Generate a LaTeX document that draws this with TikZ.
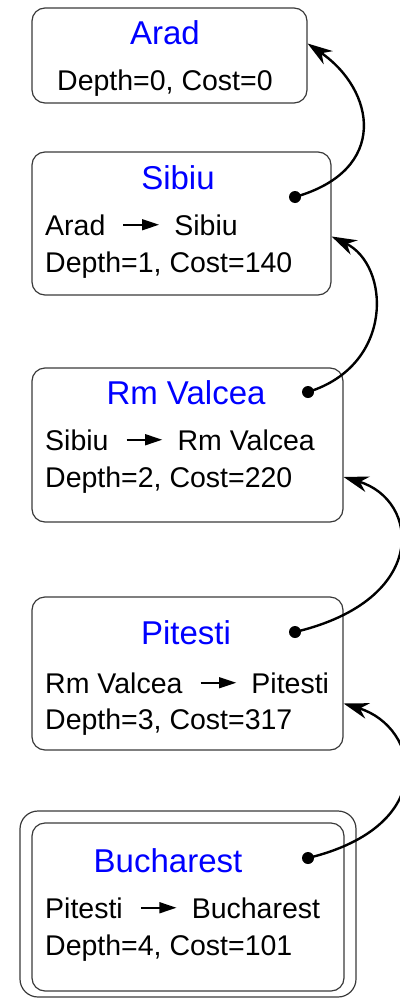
\documentclass[tikz,border=0pt]{standalone}
\usepackage{fontspec}
\setmainfont{Liberation Sans}
\usepackage{tikz}
\usetikzlibrary{arrows.meta, calc}
\definecolor{boxgrey}{HTML}{3a3a3a}
\definecolor{cityblue}{HTML}{0000ff}

% small arrow used inside the path lines
\newcommand{\hop}{\tikz[baseline=-0.36em]\draw[-{Triangle[length=0.6em,width=0.38em]}, line width=0.07em] (0,0) -- (1.25em,0);}

\begin{document}
\begin{tikzpicture}[
  x=1pt, y=-1pt,
  statebox/.style={draw=boxgrey, line width=1.2pt, rounded corners=13pt, inner sep=0pt},
  goalbox/.style={draw=boxgrey, line width=1.2pt, rounded corners=18pt, inner sep=0pt},
  cityname/.style={text=cityblue, font=\fontsize{33}{39}\selectfont, anchor=base, inner sep=0pt},
  infoline/.style={font=\fontsize{28.5}{34}\selectfont, anchor=base west, inner sep=0pt},
  parentdot/.style={circle, fill=black, minimum size=12pt, inner sep=0pt},
  backlink/.style={-{Stealth[length=25pt,width=16pt,inset=8pt]}, line width=2.4pt}
]
\useasboundingbox (0,0) rectangle (399,998);

% search nodes
\node[statebox, minimum width=275pt, minimum height=95pt] (arad) at (169.5,55.5) {};
\node[statebox, minimum width=299pt, minimum height=143pt] (sibiu) at (181.5,223.5) {};
\node[statebox, minimum width=311pt, minimum height=154pt] (valcea) at (187.5,445) {};
\node[statebox, minimum width=311pt, minimum height=153pt] (pitesti) at (187.5,673.5) {};
\node[statebox, minimum width=312pt, minimum height=168pt] (bucharest) at (188,907) {};
\node[goalbox, minimum width=336pt, minimum height=186pt] (goal) at (188,904) {};

% texts
\node[cityname] (aradname) at (165,45) {Arad};
\node[infoline] (aradcost) at (57,90) {Depth=0, Cost=0};

\node[cityname] (sibiuname) at (178,189) {Sibiu};
\node[infoline] (sibiupath) at (45,235) {Arad\hspace{0.6em}\hop\hspace{0.5em}Sibiu};
\node[infoline] (sibiucost) at (45,272) {Depth=1, Cost=140};

\node[cityname] (valceaname) at (186,404) {Rm Valcea};
\node[infoline] (valceapath) at (45,450) {Sibiu\hspace{0.6em}\hop\hspace{0.5em}Rm Valcea};
\node[infoline] (valceacost) at (45,487) {Depth=2, Cost=220};

\node[cityname] (pitestiname) at (186,644) {Pitesti};
\node[infoline] (pitestipath) at (45,693) {Rm Valcea\hspace{0.6em}\hop\hspace{0.5em}Pitesti};
\node[infoline] (pitesticost) at (45,729) {Depth=3, Cost=317};

\node[cityname] (bucharestname) at (168,872) {Bucharest};
\node[infoline] (bucharestpath) at (45,918) {Pitesti\hspace{0.6em}\hop\hspace{0.5em}Bucharest};
\node[infoline] (bucharestcost) at (45,955) {Depth=4, Cost=101};

% parent pointers
\node[parentdot] (sibiudot) at (295,197) {};
\node[parentdot] (valceadot) at (308,392) {};
\node[parentdot] (pitestidot) at (295,632) {};
\node[parentdot] (bucharestdot) at (308,858) {};

\draw[backlink] (sibiudot.center) .. controls (390,170) and (375,90) .. ($(arad.east)+(0,-12)$);
\draw[backlink] (valceadot.center) .. controls (395,365) and (390,265) .. ($(sibiu.east)+(0,13)$);
\draw[backlink] (pitestidot.center) .. controls (430,600) and (420,500) .. ($(valcea.east)+(0,32)$);
\draw[backlink] (bucharestdot.center) .. controls (440,826) and (420,727) .. ($(pitesti.east)+(0,30)$);
\end{tikzpicture}
\end{document}
